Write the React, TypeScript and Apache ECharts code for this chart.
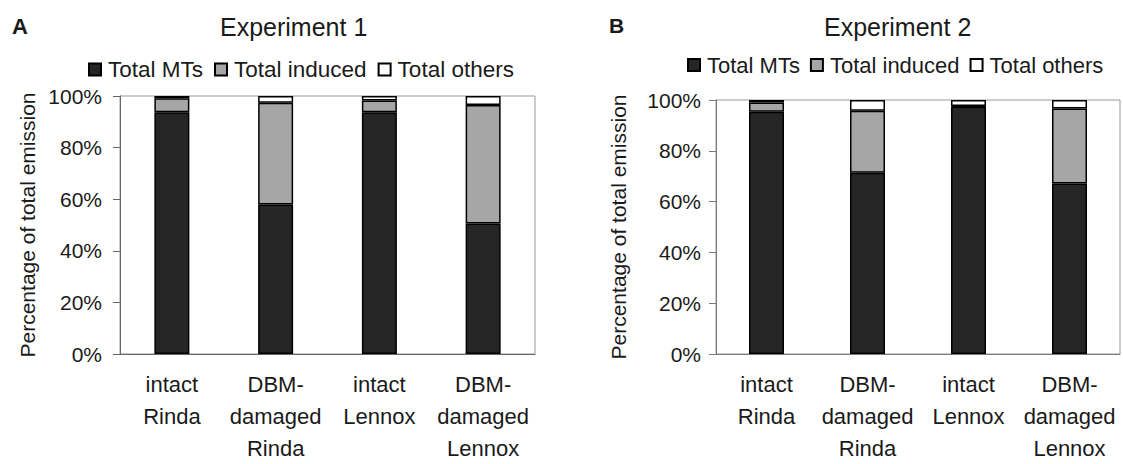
import React, { useEffect, useRef } from 'react';
import * as echarts from 'echarts';

const categories = ['intact\nRinda', 'DBM-\ndamaged\nRinda', 'intact\nLennox', 'DBM-\ndamaged\nLennox'];
const seriesNames = ['Total MTs', 'Total induced', 'Total others'];
const seriesColors = ['#262626', '#a6a6a6', '#ffffff'];
const exp1MTs = [93.7, 57.9, 93.7, 50.6];
const exp1Induced = [5.4, 39.5, 4.6, 45.9];
const exp1Others = [0.9, 2.6, 1.7, 3.5];
const exp2MTs = [95.4, 71.4, 97.3, 67.1];
const exp2Induced = [3.6, 24.4, 0.3, 29.6];
const exp2Others = [1.0, 4.2, 2.4, 3.3];
const panelLetters = ['A', 'B'];
const panelTitles = ['Experiment 1', 'Experiment 2'];
const yAxisName = 'Percentage of total emission';

const FONT = '"Liberation Sans", Arial, Helvetica, sans-serif';
const TEXT = '#1a1a1a';

export default function App() {
  const ref = useRef<HTMLDivElement>(null);
  useEffect(() => {
    document.body.style.margin = '0';
    if (!ref.current) return;
    const chart = echarts.init(ref.current, null, { renderer: 'svg' });
    const panels = [
      { data: [exp1MTs, exp1Induced, exp1Others], grid: { left: 120, top: 96, width: 415, height: 262 }, axisColor: '#666', labelMargin: 18, nameGap: 82 },
      { data: [exp2MTs, exp2Induced, exp2Others], grid: { left: 716, top: 100, width: 404, height: 261 }, axisColor: '#7a7a7a', labelMargin: 15, nameGap: 87 },
    ];
    const series: any[] = [];
    panels.forEach((p, pi) => {
      seriesNames.forEach((name, si) => {
        series.push({
          type: 'bar',
          name,
          xAxisIndex: pi,
          yAxisIndex: pi,
          stack: 'panel' + pi,
          barWidth: 35,
          data: p.data[si],
          itemStyle: { color: seriesColors[si], borderColor: '#000', borderWidth: 1.5 },
        });
      });
    });
    const option: any = {
      animation: false,
      backgroundColor: '#fff',
      textStyle: { fontFamily: FONT, color: TEXT },
      title: [
        { text: panelLetters[0], left: 12, top: 15, padding: 0, textStyle: { fontFamily: FONT, fontSize: 22, fontWeight: 'bold', color: TEXT } },
        { text: panelTitles[0], left: 220, top: 14, padding: 0, textStyle: { fontFamily: FONT, fontSize: 25, fontWeight: 'normal', color: TEXT } },
        { text: panelLetters[1], left: 609, top: 15, padding: 0, textStyle: { fontFamily: FONT, fontSize: 21, fontWeight: 'bold', color: TEXT } },
        { text: panelTitles[1], left: 824, top: 14, padding: 0, textStyle: { fontFamily: FONT, fontSize: 25, fontWeight: 'normal', color: TEXT } },
      ],
      legend: [
        { data: seriesNames, left: 88, top: 58, padding: 0, itemWidth: 12, itemHeight: 12, itemGap: 11, icon: 'rect', textStyle: { fontFamily: FONT, fontSize: 22.5, color: TEXT, padding: [0, 0, 0, 2] } },
        { data: seriesNames, left: 687, top: 54, padding: 0, itemWidth: 12, itemHeight: 12, itemGap: 10, icon: 'rect', textStyle: { fontFamily: FONT, fontSize: 22, color: TEXT, padding: [0, 0, 0, 2] } },
      ],
      grid: panels.map((p) => ({ ...p.grid, show: true, borderColor: '#9a9a9a', borderWidth: 1, containLabel: false })),
      xAxis: panels.map((p, pi) => ({
        type: 'category',
        gridIndex: pi,
        data: categories,
        axisTick: { show: false },
        axisLine: { lineStyle: { color: p.axisColor, width: 1 } },
        axisLabel: { fontFamily: FONT, fontSize: 22, color: TEXT, lineHeight: 32, margin: 14, interval: 0 },
      })),
      yAxis: panels.map((p, pi) => ({
        type: 'value',
        gridIndex: pi,
        min: 0,
        max: 100,
        interval: 20,
        name: yAxisName,
        nameLocation: 'middle',
        nameRotate: 90,
        nameGap: p.nameGap,
        nameTextStyle: { fontFamily: FONT, fontSize: 21, color: TEXT },
        splitLine: { show: false },
        axisLine: { show: true, lineStyle: { color: p.axisColor, width: 1 } },
        axisTick: { show: true, inside: false, length: 7, lineStyle: { color: p.axisColor } },
        axisLabel: { fontFamily: FONT, fontSize: 21, color: TEXT, margin: p.labelMargin, formatter: '{value}%' },
      })),
      series,
    };
    chart.setOption(option);
    return () => chart.dispose();
  }, []);
  return <div ref={ref} style={{ width: 1123, height: 464 }} />;
}
